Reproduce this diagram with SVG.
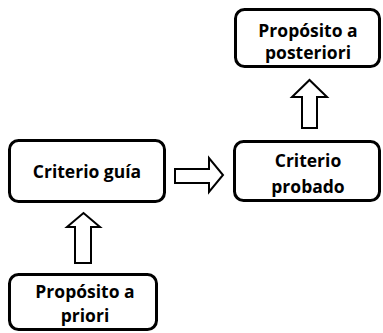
<svg xmlns="http://www.w3.org/2000/svg" width="383" height="333" viewBox="0 0 383 333">
<style>
.box{fill:#fff;stroke:#000;stroke-width:3}
.arr{fill:#fff;stroke:#000;stroke-width:2;stroke-linejoin:miter}
text{font-family:"Open Sans","Noto Sans",sans-serif;font-weight:bold;font-size:17.5px;fill:#000;text-anchor:middle}
</style>
<rect width="383" height="333" fill="#fff"/>
<g id="posteriori">
<rect class="box" x="235.5" y="9.5" width="144" height="57" rx="9"/>
<text x="308" y="37">Propósito a</text>
<text x="308" y="59">posteriori</text>
</g>
<g id="guia">
<rect class="box" x="9.5" y="140.5" width="155" height="61" rx="9"/>
<text x="87" y="178">Criterio guía</text>
</g>
<g id="probado">
<rect class="box" x="234.5" y="141.5" width="145" height="59" rx="9"/>
<text x="308" y="167">Criterio</text>
<text x="308" y="193">probado</text>
</g>
<g id="priori">
<rect class="box" x="9.5" y="274.5" width="147" height="55" rx="9"/>
<text x="85" y="298">Propósito a</text>
<text x="85" y="322">priori</text>
</g>
<g id="connectors">
<polygon class="arr" points="302,128 302,97 292,97 309.5,80 327,97 317,97 317,128"/>
<polygon class="arr" points="175,169 209,169 209,158 223,175 209,192 209,183 175,183"/>
<polygon class="arr" points="75,263 75,227 67,227 83.5,213 100,227 91,227 91,263"/>
</g>
</svg>
